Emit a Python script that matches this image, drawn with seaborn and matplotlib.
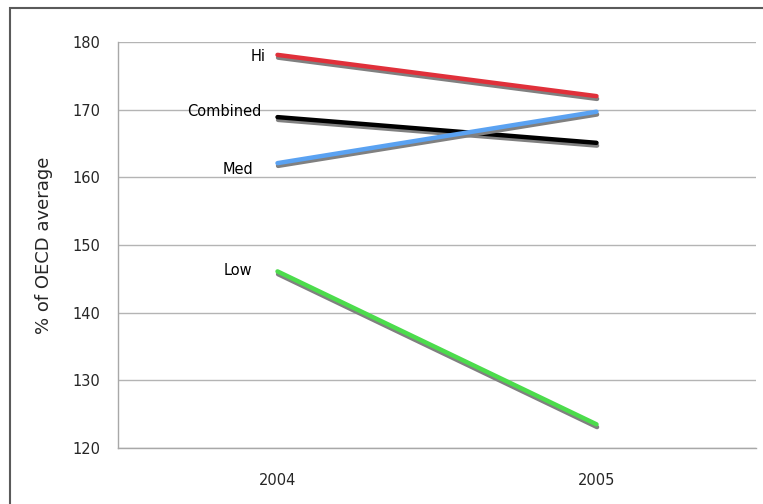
import matplotlib
matplotlib.use("Agg")
import matplotlib.pyplot as plt
import matplotlib.patheffects as pe
from matplotlib.patches import Rectangle
from matplotlib.ticker import FixedLocator, NullFormatter
import seaborn as sns
import pandas as pd

years = ["2004", "2005"]
series_names = ["Hi", "Combined", "Med", "Low"]
hi = [178.1, 172.0]
combined = [168.9, 165.1]
med = [162.1, 169.7]
low = [146.1, 123.5]
colors = {"Hi": "#e0303a", "Combined": "#000000", "Med": "#5aa2f2", "Low": "#4cdc4c"}

sns.set_style("white")
plt.rcParams["font.family"] = ["DejaVu Sans"]
FS = 10.5

df = pd.DataFrame({
    "year": years * 4,
    "series": [s for s in series_names for _ in years],
    "value": hi + combined + med + low,
})

fig = plt.figure(figsize=(7.63, 5.04), dpi=100)
ax = fig.add_axes([118 / 763, 56 / 504, (756 - 118) / 763, (448 - 42) / 504])

sns.lineplot(data=df, x="year", y="value", hue="series", hue_order=series_names,
             palette=colors, linewidth=3.2, legend=False, ax=ax, sort=False)

for line in ax.lines:
    line.set_solid_capstyle("round")
    line.set_path_effects([
        pe.SimpleLineShadow(offset=(0.4, -2.0), shadow_color="#808080", alpha=1.0),
        pe.Normal(),
    ])

ax.set_xlim(-0.5, 1.5)
ax.set_ylim(120, 180)
ax.set_yticks(range(120, 181, 10))
ax.yaxis.grid(True, color="#b4b4b4", linewidth=1.0)
ax.set_axisbelow(True)

# category labels centred, boundary tick marks between categories
ax.set_xticks([0, 1])
ax.set_xticklabels(years)
ax.xaxis.set_minor_locator(FixedLocator([-0.5, 0.5, 1.5]))
ax.xaxis.set_minor_formatter(NullFormatter())
ax.tick_params(axis="x", which="major", length=0, pad=18, labelsize=FS)
ax.tick_params(axis="x", which="minor", length=5, width=1, color="#a8a8a8", direction="out")
ax.tick_params(axis="y", length=0, pad=13, labelsize=FS)

for side in ["top", "right"]:
    ax.spines[side].set_visible(False)
for side in ["left", "bottom"]:
    ax.spines[side].set_color("#a8a8a8")
    ax.spines[side].set_linewidth(1.0)

ax.set_xlabel("")
ax.set_ylabel("% of OECD average", fontsize=13, labelpad=14)

# series names beside the 2004 end of each line
label_spec = [
    ("Hi", hi[0], -12, -2),
    ("Combined", combined[0], -16, 6),
    ("Med", med[0], -24, -6),
    ("Low", low[0], -25, 1),
]
for name, yval, dx, dy in label_spec:
    ax.annotate(name, xy=(0, yval), xytext=(dx, dy), textcoords="offset pixels",
                ha="right", va="center", fontsize=FS, color="#000000")

# outer chart frame
fig.patches.append(Rectangle((10, -20), 800, 504 - 8 + 20, transform=None,
                             fill=False, edgecolor="#5a5a5a", linewidth=1.5))

fig.savefig("out.png", dpi=100)
